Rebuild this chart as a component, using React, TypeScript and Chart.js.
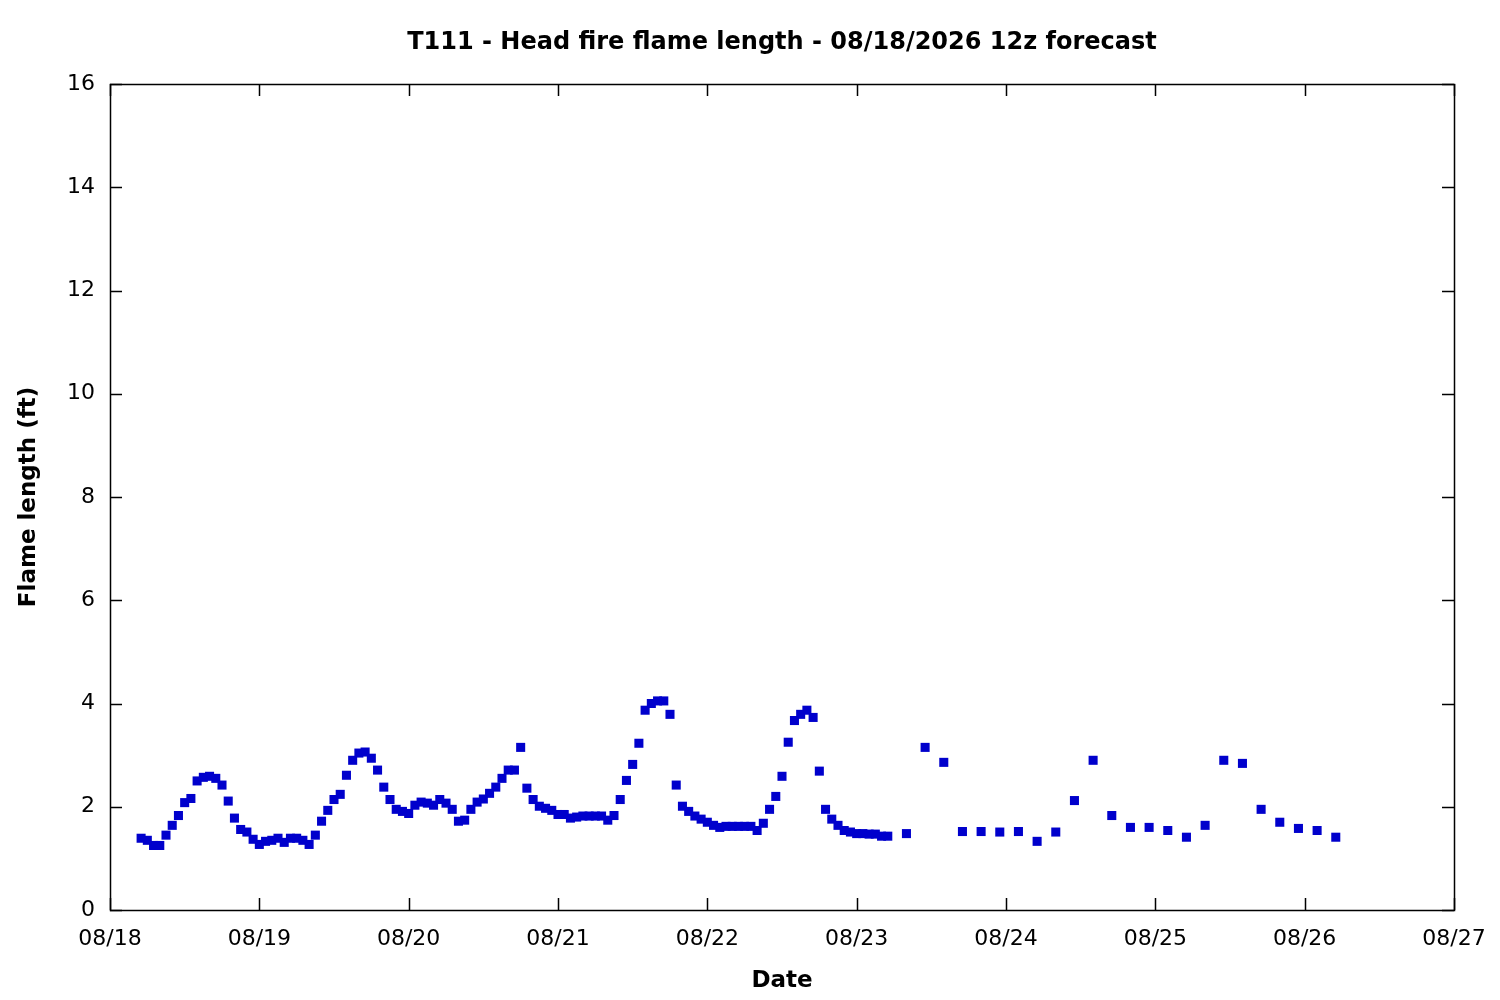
import React, { useEffect, useRef } from "react";
import { Chart, registerables } from "chart.js";

Chart.register(...registerables);

// Chart title
const chartTitle = "T111 - Head fire flame length - 08/18/2026 12z forecast";

// Day tick labels (x axis, one per day starting 08/18 00h)
const dayLabels = ["08/18", "08/19", "08/20", "08/21", "08/22", "08/23", "08/24", "08/25", "08/26", "08/27"];

// Hourly forecast: first value at hour 5 of 08/18, one value per hour
const hourlyStart = 5;
const hourlyFlame = [
  1.39, 1.35, 1.25, 1.25, 1.45, 1.64, 1.83, 2.08, 2.16, 2.50,
  2.57, 2.59, 2.55, 2.42, 2.11, 1.78, 1.56, 1.51, 1.37, 1.27,
  1.33, 1.35, 1.39, 1.31, 1.39, 1.39, 1.35, 1.27, 1.45, 1.72,
  1.93, 2.14, 2.24, 2.61, 2.90, 3.04, 3.06, 2.94, 2.71, 2.38,
  2.14, 1.95, 1.91, 1.87, 2.03, 2.09, 2.07, 2.03, 2.14, 2.07,
  1.95, 1.72, 1.74, 1.95, 2.09, 2.15, 2.26, 2.38, 2.55, 2.71,
  2.71, 3.15, 2.36, 2.14, 2.01, 1.97, 1.93, 1.85, 1.85, 1.78,
  1.80, 1.82, 1.82, 1.82, 1.82, 1.74, 1.83, 2.14, 2.51, 2.82,
  3.23, 3.87, 4.00, 4.05, 4.05, 3.79, 2.42, 2.01, 1.91, 1.82,
  1.76, 1.70, 1.64, 1.60, 1.62, 1.62, 1.62, 1.62, 1.62, 1.54,
  1.68, 1.95, 2.20, 2.59, 3.25, 3.67, 3.79, 3.87, 3.73, 2.69,
  1.95, 1.76, 1.64, 1.54, 1.51, 1.48, 1.48, 1.47, 1.47, 1.43,
  1.43,
];

// 3-hourly forecast: first value at hour 128, one value every 3 hours
const threeHourlyStart = 128;
const threeHourlyFlame = [
  1.48, 3.15, 2.86, 1.52, 1.52, 1.51, 1.52, 1.33, 1.51, 2.12,
  2.90, 1.83, 1.60, 1.60, 1.54, 1.41, 1.64, 2.90, 2.84, 1.95,
  1.70, 1.58, 1.54, 1.41,
];

const FONT = "'DejaVu Sans', sans-serif";

const titlePlugin = {
  id: "plotTitle",
  afterDraw(chart: any) {
    const { ctx, chartArea } = chart;
    ctx.save();
    ctx.fillStyle = "#000";
    ctx.font = `bold 24px ${FONT}`;
    ctx.textAlign = "center";
    ctx.textBaseline = "middle";
    ctx.fillText(chartTitle, (chartArea.left + chartArea.right) / 2, 43);
    ctx.restore();
  },
};

const frameTicksPlugin = {
  id: "frameTicks",
  afterDraw(chart: any) {
    const { ctx, chartArea } = chart;
    const { left, right, top, bottom } = chartArea;
    const xs = chart.scales.x;
    const ys = chart.scales.y;
    const tl = 12;
    ctx.save();
    ctx.strokeStyle = "#000";
    ctx.lineWidth = 1.5;
    ctx.beginPath();
    xs.ticks.forEach((t: any) => {
      const px = Math.round(xs.getPixelForValue(t.value)) + 0.5;
      ctx.moveTo(px, bottom);
      ctx.lineTo(px, bottom - tl);
      ctx.moveTo(px, top);
      ctx.lineTo(px, top + tl);
    });
    ys.ticks.forEach((t: any) => {
      const py = Math.round(ys.getPixelForValue(t.value)) + 0.5;
      ctx.moveTo(left, py);
      ctx.lineTo(left + tl, py);
      ctx.moveTo(right, py);
      ctx.lineTo(right - tl, py);
    });
    ctx.stroke();
    ctx.strokeRect(Math.round(left) + 0.5, Math.round(top) + 0.5, Math.round(right - left), Math.round(bottom - top));
    ctx.restore();
  },
};

export default function App() {
  const ref = useRef<HTMLCanvasElement | null>(null);

  useEffect(() => {
    if (!ref.current) return;
    const points = [
      ...hourlyFlame.map((v, i) => ({ x: hourlyStart + i, y: v })),
      ...threeHourlyFlame.map((v, i) => ({ x: threeHourlyStart + 3 * i, y: v })),
    ];
    const chart = new Chart(ref.current, {
      type: "scatter",
      data: {
        datasets: [
          {
            label: "Flame length",
            data: points,
            pointStyle: "rect",
            pointRadius: 6.4,
            pointHoverRadius: 6.4,
            borderWidth: 0,
            backgroundColor: "#0000cc",
            borderColor: "#0000cc",
          },
        ],
      },
      options: {
        animation: false,
        responsive: false,
        devicePixelRatio: 1,
        layout: { padding: { top: 84, right: 46, bottom: 0, left: 0 } },
        plugins: {
          legend: { display: false },
          tooltip: { enabled: false },
          title: { display: false },
        },
        scales: {
          x: {
            type: "linear",
            min: 0,
            max: 216,
            afterFit: (s: any) => {
              s.height = 90;
              s.paddingLeft = 0;
              s.paddingRight = 0;
            },
            afterBuildTicks: (s: any) => {
              s.ticks = dayLabels.map((_, i) => ({ value: i * 24 }));
            },
            ticks: {
              autoSkip: false,
              maxRotation: 0,
              padding: 16,
              color: "#000",
              font: { family: FONT, size: 22, lineHeight: 1.2 },
              callback: (v: any) => dayLabels[Math.round(Number(v) / 24)] ?? "",
            },
            grid: { display: false, drawTicks: false },
            border: { display: false },
            title: {
              display: true,
              text: "Date",
              color: "#000",
              font: { family: FONT, size: 23, weight: "bold", lineHeight: 1.2 },
              padding: { top: 0, bottom: 5 },
            },
          },
          y: {
            type: "linear",
            min: 0,
            max: 16,
            afterFit: (s: any) => {
              s.width = 110;
            },
            ticks: {
              stepSize: 2,
              padding: 15,
              color: "#000",
              font: { family: FONT, size: 22, lineHeight: 1.2 },
            },
            grid: { display: false, drawTicks: false },
            border: { display: false },
            title: {
              display: true,
              text: "Flame length (ft)",
              color: "#000",
              font: { family: FONT, size: 23, weight: "bold", lineHeight: 1.2 },
              padding: { top: 15, bottom: 0 },
            },
          },
        },
      },
      plugins: [frameTicksPlugin, titlePlugin],
    });
    return () => chart.destroy();
  }, []);

  return (
    <div style={{ position: "fixed", left: 0, top: 0, width: 1500, height: 1000, background: "#fff" }}>
      <canvas ref={ref} width={1500} height={1000} style={{ width: 1500, height: 1000, display: "block" }} />
    </div>
  );
}
